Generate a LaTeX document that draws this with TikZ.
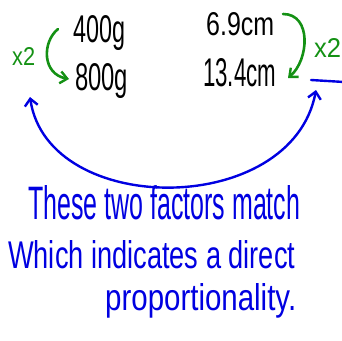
\documentclass[tikz,border=0pt]{standalone}
\usepackage{fontspec}
\setmainfont{Liberation Sans}
\usetikzlibrary{arrows.meta}
\definecolor{pengreen}{RGB}{20,145,20}
\definecolor{penblue}{RGB}{0,0,225}
\begin{document}
\begin{tikzpicture}[x=1pt,y=-1pt,
  lbl/.style={inner sep=0pt,anchor=base west},
  greenarc/.style={draw=pengreen,line width=2.6pt,line cap=round,-{Straight Barb[length=7pt,width=12pt,line width=2.4pt]}},
  bluearc/.style={draw=penblue,line width=2.4pt,line cap=round,{Straight Barb[length=7pt,width=13pt,line width=2.4pt]}-{Straight Barb[length=7pt,width=13pt,line width=2.4pt]}}]
\useasboundingbox (0,0) rectangle (342,340);
% black quantities
\node[lbl] (a1) at (73,42) {\resizebox{52pt}{27pt}{400g}};
\node[lbl] (a2) at (75,90) {\resizebox{53pt}{27pt}{800g}};
\node[lbl] (b1) at (206,35) {\resizebox{68pt}{23pt}{6.9cm}};
\node[lbl] (b2) at (203,86) {\resizebox{73pt}{28pt}{13.4cm}};
% green factors
\node[lbl,text=pengreen] (xl) at (12,65) {\resizebox{23pt}{18pt}{x2}};
\node[lbl,text=pengreen] (xr) at (314,57) {\resizebox{27pt}{19pt}{x2}};
% green arcs
\coordinate (gl1) at (58,29);
\coordinate (gl2) at (69,79);
\draw[greenarc] (gl1) .. controls (42,42) and (42,74) .. (gl2);
\coordinate (gr1) at (283,14);
\coordinate (gr2) at (288,78);
\draw[greenarc] (gr1) .. controls (312,14) and (309,60) .. (gr2);
% blue arc
\coordinate (bl) at (30,97);
\coordinate (br) at (316,90);
\draw[bluearc] (bl) .. controls (48,218) and (292,218) .. (br);
\coordinate (u1) at (311,80);
\coordinate (u2) at (344,82);
\draw[penblue,line width=2.4pt,line cap=round] (u1) -- (u2);
% blue text
\node[lbl,text=penblue] (t1) at (28,219) {\resizebox{272pt}{34pt}{These two factors match}};
\node[lbl,text=penblue] (t2) at (8,268) {\resizebox{287pt}{28pt}{Which indicates a direct}};
\node[lbl,text=penblue] (t3) at (105,310) {\resizebox{191pt}{27pt}{proportionality.}};
\end{tikzpicture}
\end{document}
